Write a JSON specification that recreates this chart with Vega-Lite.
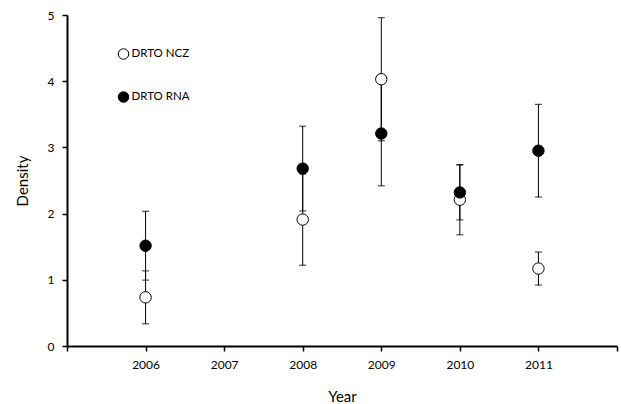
{
  "$schema": "https://vega.github.io/schema/vega-lite/v6.json",
  "width": 550,
  "height": 331,
  "autosize": {"type": "none"},
  "padding": {"left": 67, "top": 15, "right": 4, "bottom": 58},
  "background": "white",
  "config": {
    "font": "Lato",
    "view": {"stroke": null},
    "axis": {
      "grid": false,
      "domainColor": "black",
      "domainWidth": 2,
      "tickColor": "black",
      "tickWidth": 1.5,
      "tickSize": 5,
      "labelColor": "black",
      "labelFont": "Lato",
      "labelFontSize": 12,
      "labelPadding": 8,
      "titleFont": "Lato",
      "titleFontSize": 15,
      "titleFontWeight": "normal",
      "titleColor": "black"
    }
  },
  "data": {
    "values": [
      {"year": 2006, "series": "DRTO NCZ", "density": 0.735, "lo": 0.335, "hi": 1.135},
      {"year": 2008, "series": "DRTO NCZ", "density": 1.91, "lo": 1.22, "hi": 2.6},
      {"year": 2009, "series": "DRTO NCZ", "density": 4.03, "lo": 3.1, "hi": 4.96},
      {"year": 2010, "series": "DRTO NCZ", "density": 2.21, "lo": 1.68, "hi": 2.74},
      {"year": 2011, "series": "DRTO NCZ", "density": 1.17, "lo": 0.92, "hi": 1.42},
      {"year": 2006, "series": "DRTO RNA", "density": 1.515, "lo": 0.995, "hi": 2.035},
      {"year": 2008, "series": "DRTO RNA", "density": 2.68, "lo": 2.04, "hi": 3.32},
      {"year": 2009, "series": "DRTO RNA", "density": 3.21, "lo": 2.42, "hi": 4.0},
      {"year": 2010, "series": "DRTO RNA", "density": 2.32, "lo": 1.905, "hi": 2.735},
      {"year": 2011, "series": "DRTO RNA", "density": 2.95, "lo": 2.25, "hi": 3.65}
    ]
  },
  "encoding": {
    "x": {
      "field": "year",
      "type": "quantitative",
      "title": "Year",
      "scale": {"domain": [2005, 2012], "nice": false, "zero": false},
      "axis": {
        "values": [2005, 2006, 2007, 2008, 2009, 2010, 2011, 2012],
        "format": "d",
        "labelExpr": "datum.value >= 2006 && datum.value <= 2011 ? datum.label : ''",
        "titleY": 50,
        "titleBaseline": "middle"
      }
    }
  },
  "layer": [
    {
      "mark": {"type": "rule", "color": "black", "strokeWidth": 1},
      "encoding": {
        "y": {"field": "lo", "type": "quantitative"},
        "y2": {"field": "hi"}
      }
    },
    {
      "mark": {"type": "tick", "orient": "horizontal", "color": "black", "size": 7, "thickness": 1.2},
      "encoding": {"y": {"field": "lo", "type": "quantitative"}}
    },
    {
      "mark": {"type": "tick", "orient": "horizontal", "color": "black", "size": 7, "thickness": 1.2},
      "encoding": {"y": {"field": "hi", "type": "quantitative"}}
    },
    {
      "mark": {"type": "point", "shape": "circle", "filled": true, "stroke": "black", "strokeWidth": 1, "size": 130, "opacity": 1},
      "encoding": {
        "y": {
          "field": "density",
          "type": "quantitative",
          "title": "Density",
          "scale": {"domain": [0, 5], "nice": false},
          "axis": {
            "values": [0, 1, 2, 3, 4, 5],
            "format": "d",
            "titleAngle": -90,
            "titleX": -45,
            "titleY": 165.5,
            "titleAlign": "center",
            "titleBaseline": "middle"
          }
        },
        "fill": {
          "field": "series",
          "type": "nominal",
          "scale": {"domain": ["DRTO NCZ", "DRTO RNA"], "range": ["white", "black"]},
          "legend": {
            "title": null,
            "orient": "none",
            "legendX": 50.5,
            "legendY": 33,
            "padding": 0,
            "symbolType": "circle",
            "symbolSize": 110,
            "symbolStrokeColor": "black",
            "symbolStrokeWidth": 1,
            "labelFont": "Lato",
            "labelFontSize": 11.5,
            "labelColor": "black",
            "labelOffset": 2,
            "rowPadding": 27
          }
        }
      }
    }
  ]
}
